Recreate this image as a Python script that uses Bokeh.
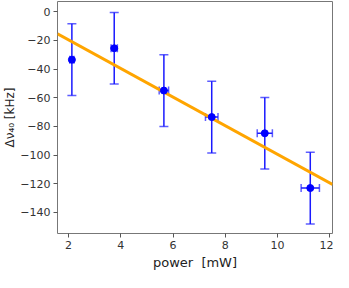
import numpy as np
from bokeh.plotting import figure
from bokeh.models import ColumnDataSource, Whisker, TeeHead, FixedTicker, Range1d
from bokeh.embed import file_html
from bokeh.resources import INLINE

# data
power = [2.13, 3.75, 5.65, 7.48, 9.51, 11.25]
power_err = [0.08, 0.12, 0.18, 0.24, 0.29, 0.35]
shift = [-33.5, -25.5, -55.0, -73.5, -84.8, -123.0]
shift_err = [25, 25, 25, 25, 25, 25]

x_ticks = [2, 4, 6, 8, 10, 12]
y_ticks = [-140, -120, -100, -80, -60, -40, -20, 0]
y_tick_labels = ["\u2212140", "\u2212120", "\u2212100", "\u221280", "\u221260", "\u221240", "\u221220", "0"]

x_lo, x_hi = 1.58, 12.1
y_lo, y_hi = -154.7, 7.1

FONT = "DejaVu Sans"

p = figure(width=333, height=272, output_backend="svg", toolbar_location=None,
           x_range=Range1d(x_lo, x_hi), y_range=Range1d(y_lo, y_hi),
           min_border_left=49, min_border_right=1, min_border_top=1, min_border_bottom=34)
p.grid.visible = False
p.outline_line_color = "#777777"
p.outline_line_width = 1
p.background_fill_color = "white"
p.border_fill_color = "white"

p.xaxis.ticker = FixedTicker(ticks=x_ticks)
p.yaxis.ticker = FixedTicker(ticks=y_ticks)
p.yaxis.major_label_overrides = {t: l for t, l in zip(y_ticks, y_tick_labels)}
for ax in (p.xaxis, p.yaxis):
    ax.axis_line_color = None
    ax.minor_tick_line_color = None
    ax.major_tick_line_color = "#555555"
    ax.major_tick_out = 4
    ax.major_tick_in = 0
    ax.major_label_text_font = FONT
    ax.major_label_text_font_size = "11px"
    ax.major_label_text_color = "#333333"
    ax.major_label_standoff = 3
    ax.axis_label_text_font = FONT
    ax.axis_label_text_font_style = "normal"
    ax.axis_label_text_color = "#222222"
p.xaxis.axis_label = "power\u00a0 [mW]"
p.xaxis.axis_label_text_font_size = "13px"
p.xaxis.axis_label_standoff = 3
p.yaxis.axis_label = "\u0394\u03bd\u2084\u2080 [kHz]"
p.yaxis.axis_label_text_font_size = "12px"
p.yaxis.axis_label_standoff = 0

# linear fit
slope, intercept = np.polyfit(power, shift, 1)
xf = np.array([x_lo, x_hi])
p.line(xf, intercept + slope * xf, line_color="#ffa500", line_width=3)

src = ColumnDataSource(dict(
    x=power, y=shift,
    ylo=[s - e for s, e in zip(shift, shift_err)],
    yhi=[s + e for s, e in zip(shift, shift_err)],
    xlo=[x - e for x, e in zip(power, power_err)],
    xhi=[x + e for x, e in zip(power, power_err)],
))

ycol = "#1a1aff"
wy = Whisker(source=src, base="x", lower="ylo", upper="yhi", dimension="height",
             line_color=ycol, line_width=1.5,
             upper_head=TeeHead(size=9, line_color=ycol, line_width=1.5, line_alpha=0.7),
             lower_head=TeeHead(size=9, line_color=ycol, line_width=1.5, line_alpha=0.7))
wx = Whisker(source=src, base="y", lower="xlo", upper="xhi", dimension="width",
             line_color=ycol, line_width=1.5,
             upper_head=TeeHead(size=8, line_color=ycol, line_width=1.5, line_alpha=0.7),
             lower_head=TeeHead(size=8, line_color=ycol, line_width=1.5, line_alpha=0.7))
p.add_layout(wy)
p.add_layout(wx)
p.scatter("x", "y", source=src, size=7, color="#0000ff")

open("out.html", "w").write(file_html(p, INLINE))
